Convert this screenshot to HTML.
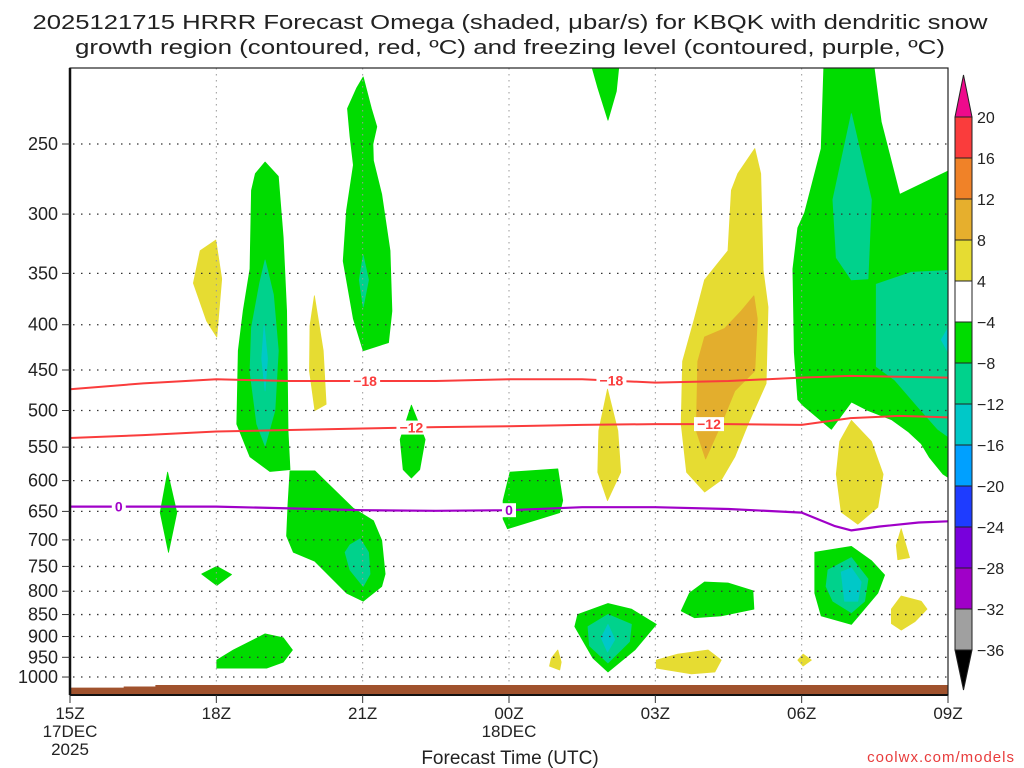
<!DOCTYPE html>
<html><head><meta charset="utf-8"><title>HRRR Omega KBQK</title>
<style>html,body{margin:0;padding:0;background:#fff}svg{display:block}</style>
</head><body>
<svg id="chart" width="1024" height="768" viewBox="0 0 1024 768" xmlns="http://www.w3.org/2000/svg" font-family="'Liberation Sans', sans-serif">
<defs><clipPath id="plotclip"><rect x="70" y="68" width="878" height="627"/></clipPath></defs>
<g fill="#222" font-size="20">
<text x="510" y="29" text-anchor="middle" textLength="955" lengthAdjust="spacingAndGlyphs">2025121715 HRRR Forecast Omega (shaded, μbar/s) for KBQK with dendritic snow</text>
<text x="510" y="54" text-anchor="middle" textLength="870" lengthAdjust="spacingAndGlyphs">growth region (contoured, red, ºC) and freezing level (contoured, purple, ºC)</text>
</g>
<g id="fills" clip-path="url(#plotclip)"></g>
<g id="grid"></g>
<g id="terrain" clip-path="url(#plotclip)"></g>
<g id="lines" clip-path="url(#plotclip)"></g>
<g id="axes"></g>
<g id="cbar"></g>
<text x="510" y="764" text-anchor="middle" font-size="19" fill="#222">Forecast Time (UTC)</text>
<text x="1015" y="762" text-anchor="end" font-size="15" fill="#e83c3c" letter-spacing="1">coolwx.com/models</text>
</svg>
<script>
const hourTicks=[0,3,6,9,12,15,18];
const hourTickLabels=['15Z','18Z','21Z','00Z','03Z','06Z','09Z'];
const pressureTicks=[250,300,350,400,450,500,550,600,650,700,750,800,850,900,950,1000];
const cbarLabels=['20','16','12','8','4','−4','−8','−12','−16','−20','−24','−28','−32','−36'];
const cbarColors=['#fa3c3c','#f08228','#e6af2d','#e6dc32','#ffffff','#00dc00','#00d28c','#00c8c8','#00a0ff','#1e3cff','#7800dc','#a000c8','#a0a0a0'];
const levelColors={g:'#00dc00',t:'#00d28c',c:'#00c8c8',y:'#e6dc32',o:'#e3ae2d'};
const blobLevels=['g','t','c','y','o'];
// contour regions: [level, hours after 15Z, pressure hPa]
const blobs=[
['y',[2.99,3.11,3.01,2.80,2.53,2.67],[321,355,413,396,359,330]],
['g',[4.0,4.27,4.37,4.44,4.47,4.51,4.10,3.69,3.42,3.45,3.55,3.69,3.72,3.80],[262,272,319,386,527,583,586,564,518,428,386,346,282,270]],
['t',[4.0,4.17,4.27,4.2,4.0,3.83,3.69,3.72,3.89],[338,370,428,500,548,518,452,403,359]],
['c',[3.98,4.05,4.0,3.93],[401,437,475,437]],
['y',[5.01,5.19,5.25,5.02,4.91,4.92],[371,428,492,500,451,401]],
['g',[6.01,6.18,6.29,6.21,6.22,6.39,6.56,6.60,6.53,6.01,5.81,5.60,5.67,5.81,5.74,5.69,5.88],[210,228,239,250,261,285,330,386,419,428,394,339,297,264,245,228,216]],
['t',[6.01,6.12,6.01,5.93],[334,356,382,356]],
['g',[2.0,2.19,2.02,1.85],[587,652,723,652]],
['g',[3.01,3.31,3.01,2.70],[750,766,788,765]],
['g',[3.01,3.35,4.0,4.37,4.56,4.37,4.03,3.01],[957,932,894,903,932,962,977,977]],
['g',[4.51,5.02,5.81,6.22,6.39,6.46,6.39,6.01,5.67,5.02,4.58,4.44,4.47],[585,585,645,666,701,765,790,821,804,740,723,693,638]],
['t',[5.95,6.12,6.15,6.01,5.74,5.64,5.74],[698,723,765,790,757,723,709]],
['g',[7.0,7.28,7.17,7.0,6.83,6.77],[493,539,583,596,583,539]],
['g',[8.88,9.02,10.0,10.1,10.04,9.66,8.97,8.88],[632,587,582,632,652,662,680,663]],
['g',[10.65,11.27,11.2,11.03,10.82],[200,200,218,235,216]],
['y',[11.02,11.23,11.29,11.02,10.82,10.84],[473,527,587,632,587,527]],
['y',[14.04,14.16,14.21,14.31,14.27,13.9,13.63,13.35,13.01,12.64,12.53,12.56,12.8,13.01,13.49,13.56,13.69],[253,270,347,382,466,518,564,599,618,587,518,440,394,356,330,282,270]],
['o',[14.02,14.09,14.04,13.63,13.35,13.03,12.84,12.87,13.01,13.42,13.76],[371,394,451,475,518,567,527,440,413,404,386]],
['g',[15.46,16.46,16.63,17.01,18.2,18.2,17.9,17.62,17.45,17.18,16.84,16.36,16.02,15.61,15.02,14.92,14.85,14.82,14.92,15.06,15.4],[200,200,236,285,265,605,590,565,545,528,512,500,489,525,493,486,430,346,311,299,253]],
['t',[16.02,16.43,16.36,16.02,15.71,15.64],[231,289,355,356,336,289]],
['t',[16.53,17.25,18.2,18.2,17.79,17.38,16.91,16.53],[360,349,347,545,525,495,462,446]],
['c',[18.2,18.2,17.86],[386,450,416]],
['y',[16.02,16.43,16.67,16.56,16.15,15.81,15.71,15.78],[513,542,590,643,672,651,590,542]],
['y',[17.04,17.21,16.97,16.94],[680,733,737,710]],
['g',[15.27,16.02,16.43,16.7,16.56,16.02,15.4,15.27],[723,712,739,767,804,872,853,804]],
['t',[15.54,16.02,16.36,16.29,16.02,15.64,15.5],[757,733,775,821,846,821,790]],
['c',[15.81,16.02,16.22,16.15,15.88],[761,753,781,821,821]],
['y',[17.04,17.45,17.57,17.32,17.04,16.84,16.84],[810,821,838,866,885,870,838]],
['g',[13.01,13.49,14.0,14.02,13.35,12.8,12.53,12.7],[781,783,799,838,853,857,842,804]],
['g',[11.03,11.51,12.02,11.58,11.03,10.72,10.35,10.41],[826,838,872,932,987,952,877,850]],
['t',[11.03,11.51,11.47,11.03,10.65,10.62],[850,872,912,964,922,877]],
['c',[11.03,11.17,11.02,10.89],[872,907,937,903]],
['y',[10.0,10.07,10.04,9.83,9.87],[932,962,982,972,952]],
['y',[12.02,12.46,13.08,13.35,13.22,12.74,12.02],[957,942,932,957,987,992,977]],
['y',[14.92,15.03,15.2,15.03],[957,942,957,972]]
];
const m18Hours=[0,1.5,3,4.5,6,7.5,9,10.5,12,13.5,15,16,17,18];
const m18Press=[473,466,461,463,463,463,461,461,465,463,459,457,458,459];
const m12Hours=[0,1.5,3,4.5,6,7.5,9,10.5,12,13.5,15,16,17,18];
const m12Press=[537,533,528,526,524,522,521,519,518,518,519,510,507,509];
const zeroHours=[0,1.5,3,4.5,6,7.5,9,10.5,12,13.5,15,15.67,16.02,16.6,17.4,18];
const zeroPress=[642,642,642,645,648,649,648,643,643,646,652,675,683,676,669,667];
const m18LabelHours=[6.05,11.1];
const m12LabelHours=[7.0,13.1];
const zeroLabelHours=[1.0,9.0];
const sfcHours=[0,1.1,1.1,1.75,1.75,18];
const sfcPress=[1028,1028,1025,1025,1021,1021];

const NS='http://www.w3.org/2000/svg';
const X0=70,X1=948,Y0=68,Y1=695;
function xs(h){return X0+h*(X1-X0)/18;}
function ys(p){return 144+384.5*Math.log(p/250);}
function mk(tag,attrs,parent){const e=document.createElementNS(NS,tag);for(const k in attrs)e.setAttribute(k,attrs[k]);parent.appendChild(e);return e;}
function interpP(hs,ps,h){for(let i=0;i<hs.length-1;i++){if(h>=hs[i]&&h<=hs[i+1]){const f=(h-hs[i])/(hs[i+1]-hs[i]);return ps[i]+f*(ps[i+1]-ps[i]);}}return ps[ps.length-1];}

const fills=document.getElementById('fills');
blobLevels.forEach(lv=>{
  blobs.forEach((b,i)=>{
    if(b[0]!==lv)return;
    const pts=b[1].map((h,j)=>xs(h).toFixed(1)+','+ys(b[2][j]).toFixed(1)).join(' ');
    const el=mk('polygon',{points:pts,fill:levelColors[lv],stroke:levelColors[lv],'stroke-width':0.8,'stroke-linejoin':'round'},fills);
    
    
  });
});

const grid=document.getElementById('grid');
pressureTicks.forEach(p=>{
  const el=mk('line',{x1:X0+3,x2:X1,y1:ys(p),y2:ys(p),stroke:'#333','stroke-width':1.3,'stroke-dasharray':'1.5,6.5'},grid);
  
  
});
hourTicks.forEach(h=>{
  if(h===0||h===18)return;
  const el=mk('line',{x1:xs(h),x2:xs(h),y1:Y0,y2:Y1,stroke:'#999','stroke-width':1,'stroke-dasharray':'1.5,4.5'},grid);
  
  
});

const terr=document.getElementById('terrain');
let tp='M'+xs(sfcHours[0])+','+Y1;
sfcHours.forEach((h,i)=>{tp+=' L'+xs(h).toFixed(1)+','+ys(sfcPress[i]).toFixed(1);});
tp+=' L'+xs(18)+','+Y1+' Z';
const tEl=mk('path',{d:tp,fill:'#a0522d'},terr);



const lines=document.getElementById('lines');
function drawLine(hs,ps,color,w,name){
  const d=hs.map((h,i)=>(i?'L':'M')+xs(h).toFixed(1)+','+ys(ps[i]).toFixed(1)).join(' ');
  const el=mk('path',{d:d,fill:'none',stroke:color,'stroke-width':w,'stroke-linejoin':'round'},lines);
  
  
}
function drawLabels(hs,ps,lhs,txt,color,name){
  lhs.forEach(h=>{
    const x=xs(h),y=ys(interpP(hs,ps,h));
    const w=txt.length*8+6;
    const r=mk('rect',{x:x-w/2,y:y-7,width:w,height:14,fill:'#fff'},lines);
    
    
    const t=mk('text',{x:x,y:y+5,'text-anchor':'middle','font-size':14,'font-weight':'bold',fill:color},lines);
    t.textContent=txt;
    
    
  });
}
drawLine(m18Hours,m18Press,'#fa3c3c',2,'contour-minus18');
drawLine(m12Hours,m12Press,'#fa3c3c',2,'contour-minus12');
drawLine(zeroHours,zeroPress,'#a000c8',2.2,'freezing-level-contour');
drawLabels(m18Hours,m18Press,m18LabelHours,'−18','#fa3c3c','contour-minus18');
drawLabels(m12Hours,m12Press,m12LabelHours,'−12','#fa3c3c','contour-minus12');
drawLabels(zeroHours,zeroPress,zeroLabelHours,'0','#a000c8','freezing-level');

const axes=document.getElementById('axes');
const frame=mk('rect',{x:X0,y:Y0,width:X1-X0,height:Y1-Y0,fill:'none',stroke:'#222','stroke-width':1.2},axes);


const la=mk('line',{x1:X0,x2:X0,y1:Y0,y2:Y1,stroke:'#111','stroke-width':2.5},axes);


const ba=mk('line',{x1:X0,x2:X1,y1:Y1,y2:Y1,stroke:'#111','stroke-width':2},axes);


pressureTicks.forEach(p=>{
  const y=ys(p);
  const tk=mk('line',{x1:X0-8,x2:X0,y1:y,y2:y,stroke:'#333','stroke-width':1},axes);
  
  
  const t=mk('text',{x:X0-12,y:y+6,'text-anchor':'end','font-size':18,fill:'#222'},axes);
  t.textContent=String(p);
  
  
});
hourTicks.forEach((h,i)=>{
  const x=xs(h);
  const tk=mk('line',{x1:x,x2:x,y1:Y1,y2:Y1+8,stroke:'#333','stroke-width':1},axes);
  
  
  const t=mk('text',{x:x,y:719,'text-anchor':'middle','font-size':17,fill:'#222'},axes);
  t.textContent=hourTickLabels[i];
  
  
});
[['17DEC',xs(0),737],['2025',xs(0),755],['18DEC',xs(9),737]].forEach(a=>{
  const t=mk('text',{x:a[1],y:a[2],'text-anchor':'middle','font-size':17,fill:'#222'},axes);
  t.textContent=a[0];
  
  
});

const cb=document.getElementById('cbar');
const CX=955,CW=17,CT=117,CS=41;
const tri1=mk('polygon',{points:`${CX},${CT} ${CX+CW},${CT} ${CX+CW/2},${CT-42}`,fill:'#ee0a8c',stroke:'#222','stroke-width':1},cb);


cbarColors.forEach((c,i)=>{
  const r=mk('rect',{x:CX,y:CT+i*CS,width:CW,height:CS,fill:c,stroke:'#222','stroke-width':1},cb);
  
  
});
const cb0=CT+cbarColors.length*CS;
const tri2=mk('polygon',{points:`${CX},${cb0} ${CX+CW},${cb0} ${CX+CW/2},${cb0+40}`,fill:'#000',stroke:'#222','stroke-width':1},cb);


cbarLabels.forEach((l,i)=>{
  const t=mk('text',{x:977,y:CT+i*CS+6,'font-size':16,fill:'#222'},cb);
  t.textContent=l;
  
  
});
</script>
</body></html>
